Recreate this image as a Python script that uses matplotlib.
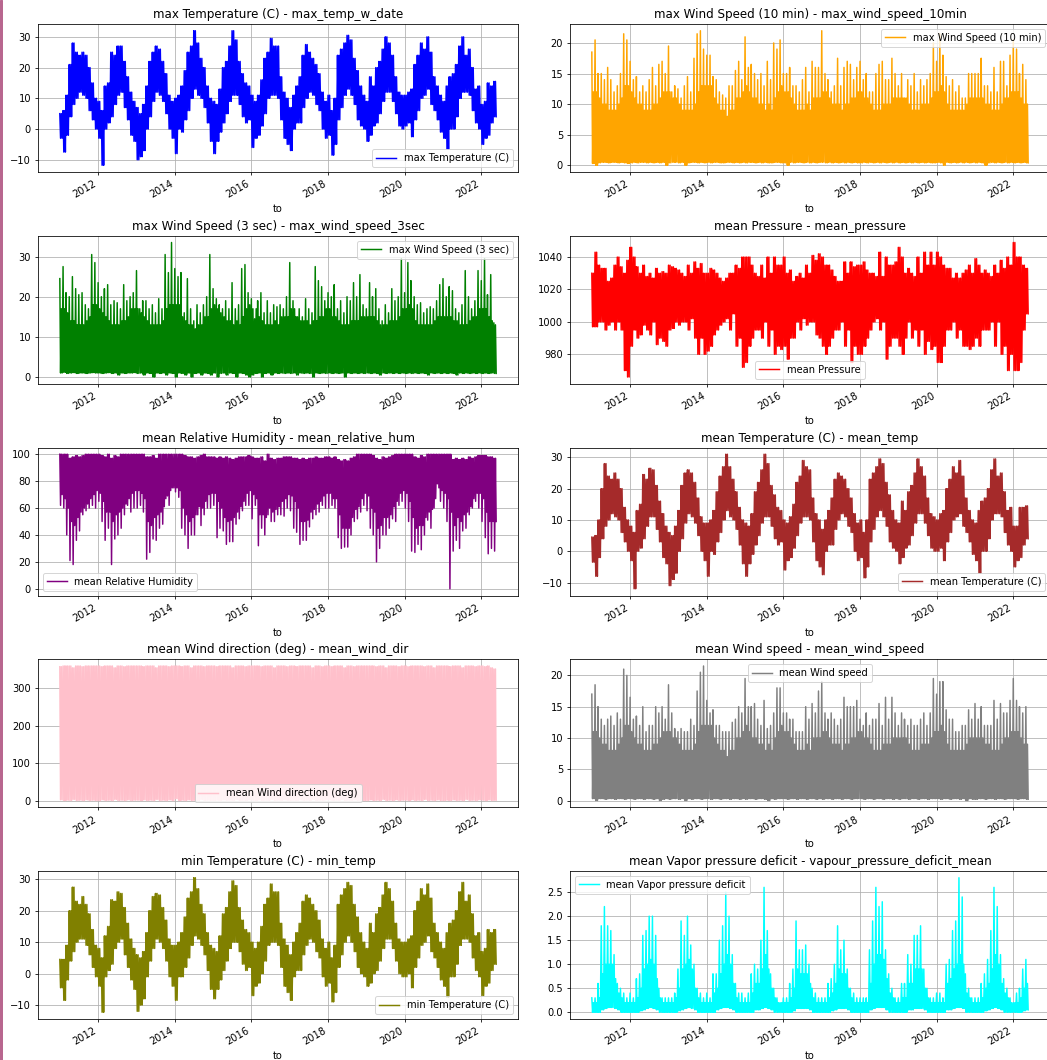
import numpy as np
import matplotlib.pyplot as plt
import matplotlib.dates as mdates
from matplotlib.patches import Rectangle

# monthly envelopes, Jan 2011 .. May 2022 (137 months)
months = np.arange('2011-01', '2022-06', dtype='datetime64[M]')

# max Temperature (C)
max_temp_hi = [5, 6, 11, 21, 28, 25, 24, 25, 24, 20, 15, 10,
               9, 6, 14, 15, 25, 24, 27, 27, 22, 17, 12, 9,
               7, 5, 8, 14, 22, 25, 27, 26, 22, 18, 11, 9,
               10, 11, 14, 19, 25, 27, 32, 28, 23, 20, 14, 10,
               9, 8, 13, 20, 22, 27, 32, 29, 22, 18, 15, 14,
               11, 9, 11, 16, 23, 25, 29.5, 27, 27, 17, 12, 10,
               7, 11, 14, 17, 24, 27.5, 25, 23, 21, 18, 12, 9,
               11, 6, 10, 24, 26, 28, 30.5, 29, 23, 19, 14, 11,
               9, 17, 14, 20, 22, 26, 30, 28, 24, 17, 12, 11,
               11, 12, 13, 21, 24, 28, 26, 30, 25, 17, 14, 11,
               9, 14, 17, 18, 21, 27, 30, 24, 26, 20, 13, 14,
               8, 9, 15, 14, 15.5]
max_temp_lo = [-3, -7.5, -2, 4, 8, 10, 12, 11, 10, 6, 3, 0,
               -3, -11.8, 0, 2, 4, 8, 11, 12, 7, 3, -2, -4,
               -10, -9, -7, 0, 4, 9, 12, 11, 9, 5, 0, -3,
               -8, 0, -1, 3, 6, 10, 13, 11, 10, 7, 2, -4,
               -8, -4, -1, 2, 5, 9, 11, 11, 8, 4, 2, 3,
               -6, -3, -2, 1, 5, 10, 11, 11, 10, 3, -3, -5,
               -7, 0, 2, 2, 7, 10, 12, 11, 8, 6, 0, -3,
               -2, -8.5, -5, 3, 7, 11, 13, 11, 8, 3, 1, 0,
               -4, -2, 1, 2, 5, 9, 12, 12, 9, 5, 1, 0,
               1, 2, -2.5, 3, 6, 10, 11, 13, 8, 6, 3, -1,
               -3, -6.5, 0, 0, 4, 10, 12, 12, 11, 6, 2, 0,
               -5, -3, -2, 2, 4]

# max Wind Speed (10 min)
wind10_peak = [18.5, 20.5, 15, 15, 14, 16, 14, 12, 13, 15, 21.5, 20.5,
               17, 14, 14.5, 12, 13, 12, 14, 16, 13, 16.5, 17, 15,
               19.5, 12, 13, 12.5, 11, 13, 14.5, 12, 17.5, 21.5, 22, 19,
               18, 18, 14.5, 14, 12, 11.5, 11, 13, 13, 15.5, 17, 14,
               21, 16, 16.5, 15, 14, 15, 13, 17, 14, 20, 19, 20.5,
               15, 15, 16, 13, 13, 12, 14, 16, 12, 17, 16, 16,
               22, 15, 14, 12, 13, 17.5, 13, 16, 17, 16.5, 14, 16,
               17, 14, 15, 12, 12, 15, 16.5, 17, 14, 14, 17.5, 15,
               13, 15, 11, 14, 13, 15, 12, 14, 13, 14, 15, 20,
               17, 21.5, 18, 14.5, 13, 14, 12, 13, 11, 11, 15, 15,
               15, 15, 17.5, 13, 13, 12, 16, 12, 17, 17, 13, 18,
               20.5, 19, 15, 16.5, 14]
wind10_body = [12, 12, 11, 10, 10, 9, 9, 9, 10, 11, 13, 13,
               12, 11, 10, 10, 9, 9, 9, 10, 10, 11, 12, 12,
               12, 11, 11, 10, 9, 9, 9, 9, 10, 12, 13, 13,
               13, 13, 11, 10, 9, 9, 8, 9, 9, 11, 11, 12,
               13, 12, 11, 11, 10, 10, 9, 10, 9, 11, 12, 13,
               12, 12, 11, 10, 9, 9, 9, 10, 9, 11, 11, 11,
               12, 12, 11, 10, 10, 10, 9, 10, 10, 11, 11, 12,
               12, 11, 11, 10, 9, 9, 9, 10, 10, 10, 11, 11,
               11, 11, 11, 10, 9, 9, 9, 10, 10, 10, 11, 12,
               12, 13, 12, 10, 9, 9, 9, 9, 9, 10, 11, 11,
               11, 11, 11, 10, 10, 9, 9, 9, 10, 11, 11, 12,
               12, 12, 11, 10, 10]
wind10_low = [0.3, 0.0, 0.4, 0.5, 0.5, 0.4, 0.5, 0.5, 0.4, 0.5, 0.4, 0.3,
              0.4, 0.5, 0.4, 0.5, 0.5, 0.4, 0.5, 0.4, 0.5, 0.4, 0.5, 0.0,
              0.4, 0.5, 0.5, 0.4, 0.5, 0.0, 0.4, 0.5, 0.5, 0.4, 0.5, 0.4,
              0.5, 0.4, 0.5, 0.5, 0.4, 0.4, 0.5, 0.5, 0.4, 0.5, 0.4, 0.5,
              0.4, 0.5, 0.5, 0.4, 0.5, 0.4, 0.5, 0.4, 0.4, 0.5, 0.5, 0.4,
              0.4, 0.0, 0.5, 0.4, 0.5, 0.5, 0.4, 0.5, 0.4, 0.5, 0.4, 0.5,
              0.5, 0.4, 0.5, 0.4, 0.5, 0.4, 0.5, 0.4, 0.5, 0.4, 0.5, 0.4,
              0.4, 0.5, 0.4, 0.5, 0.4, 0.5, 0.4, 0.5, 0.4, 0.5, 0.4, 0.5,
              0.4, 0.5, 0.4, 0.5, 0.4, 0.5, 0.4, 0.5, 0.4, 0.5, 0.4, 0.4,
              0.5, 0.4, 0.0, 0.5, 0.4, 0.5, 0.4, 0.5, 0.4, 0.5, 0.4, 0.5,
              0.4, 0.5, 0.4, 0.0, 0.4, 0.5, 0.4, 0.5, 0.4, 0.5, 0.4, 0.5,
              0.4, 0.5, 0.4, 0.5, 0.4]

# max Wind Speed (3 sec)
wind3_peak = [24.5, 27.5, 21, 20, 25, 22, 20.5, 21, 18, 17, 30.5, 28.5,
              23.5, 20, 22, 23, 18, 19, 18.5, 17, 23, 19, 20, 21,
              26.5, 17, 19, 19, 17, 18, 16, 19.5, 17, 30.5, 26, 33.5,
              27, 25, 26, 16, 24.5, 17, 14, 18, 16, 18, 20, 30.5,
              22, 19.5, 18, 17, 19, 17, 23.5, 17, 18, 27, 28, 21,
              19.5, 14.5, 19, 21, 16, 19, 16, 18, 17.5, 18, 17, 20,
              28.5, 19, 15, 17, 15, 19.5, 17, 16, 27.5, 24, 22.5, 19,
              21, 20, 23, 17, 19, 16, 20, 19, 23.5, 20, 25.5, 18,
              17, 23.5, 20, 22, 17, 14, 18, 16, 22, 19, 20, 29.5,
              21, 28.5, 24, 20, 18, 18.5, 16, 17, 17.5, 17, 19, 23,
              24.5, 20, 22.5, 21.5, 17, 16, 18, 26.5, 20, 17, 19, 26.5,
              24, 29.5, 20.5, 25.5, 13.5]
wind3_body = [17, 17, 16, 14, 14, 13, 13, 13, 14, 15, 18, 18,
              17, 16, 15, 14, 13, 13, 13, 14, 14, 15, 17, 17,
              17, 16, 15, 14, 13, 13, 13, 13, 14, 17, 18, 18,
              18, 18, 15, 14, 13, 13, 12, 13, 13, 15, 15, 17,
              18, 17, 16, 15, 14, 14, 13, 14, 13, 15, 17, 18,
              17, 17, 15, 14, 13, 13, 13, 14, 13, 15, 15, 15,
              17, 17, 15, 14, 14, 14, 13, 14, 14, 15, 15, 17,
              17, 15, 15, 14, 13, 13, 13, 14, 14, 14, 15, 15,
              15, 15, 15, 14, 13, 13, 13, 14, 14, 14, 15, 17,
              17, 18, 17, 14, 13, 13, 13, 13, 13, 14, 15, 15,
              15, 15, 15, 14, 14, 13, 13, 13, 14, 15, 15, 17,
              17, 17, 15, 14, 13]
wind3_low = [1.0, 1.2, 0.9, 1.0, 1.1, 0.9, 1.0, 1.0, 0.9, 1.0, 1.1, 1.0,
             1.0, 0.9, 1.0, 1.1, 0.9, 1.0, 0.5, 1.0, 0.9, 1.0, 1.0, 1.1,
             0.9, 1.0, 0.5, 1.0, 0.9, 0.0, 1.0, 0.9, 1.0, 0.5, 1.0, 0.9,
             0.0, 1.0, 0.9, 0.5, 1.0, 0.0, 0.9, 1.0, 0.5, 1.0, 0.9, 0.5,
             1.0, 0.0, 0.9, 1.0, 0.5, 1.0, 0.9, 0.0, 1.0, 0.9, 0.5, 0.0,
             0.5, 0.9, 1.0, 0.0, 0.9, 1.0, 0.5, 1.0, 0.9, 1.0, 0.9, 1.0,
             0.9, 1.0, 0.5, 1.0, 0.9, 1.0, 0.9, 0.0, 1.0, 0.9, 1.0, 0.9,
             1.0, 0.9, 1.0, 0.9, 1.0, 0.0, 1.0, 0.9, 1.0, 0.9, 1.0, 0.9,
             1.0, 0.9, 1.0, 0.9, 0.5, 1.0, 0.9, 1.0, 0.9, 1.0, 0.9, 1.0,
             0.9, 1.0, 0.9, 1.0, 0.9, 1.0, 0.9, 0.5, 1.0, 0.9, 1.0, 0.9,
             1.0, 0.9, 1.0, 0.9, 0.5, 1.0, 0.9, 1.0, 0.9, 1.0, 0.9, 1.0,
             0.9, 1.0, 0.9, 1.0, 0.9]

# mean Pressure
pressure_hi = [1030, 1043, 1035, 1033, 1033, 1025, 1027, 1035, 1040, 1034, 1030, 1038,
               1046, 1040, 1034, 1030, 1035, 1028, 1030, 1027, 1033, 1030, 1031, 1030,
               1035, 1034, 1033, 1032, 1030, 1028, 1035, 1030, 1037, 1033, 1036, 1030,
               1030, 1033, 1032, 1030, 1027, 1025, 1027, 1030, 1030, 1035, 1033, 1040,
               1040, 1040, 1035, 1030, 1028, 1035, 1027, 1040, 1030, 1040, 1035, 1035,
               1040, 1030, 1032, 1025, 1028, 1030, 1027, 1035, 1030, 1041, 1038, 1042,
               1040, 1035, 1035, 1032, 1028, 1025, 1025, 1037, 1030, 1037, 1034, 1035,
               1035, 1037, 1032, 1030, 1030, 1028, 1043, 1028, 1040, 1035, 1035, 1037,
               1046, 1040, 1030, 1033, 1030, 1028, 1040, 1030, 1043, 1035, 1043, 1035,
               1043, 1040, 1035, 1033, 1033, 1027, 1030, 1027, 1030, 1032, 1035, 1030,
               1039, 1035, 1030, 1032, 1030, 1028, 1035, 1030, 1038, 1033, 1040, 1035,
               1049, 1040, 1040, 1035, 1033]
pressure_lo = [997, 997, 1000, 1000, 995, 998, 1000, 995, 1000, 995, 970, 966,
               985, 995, 990, 992, 998, 995, 992, 1000, 986, 990, 988, 985,
               995, 996, 1000, 998, 1000, 1000, 995, 1002, 990, 980, 990, 980,
               982, 985, 992, 995, 998, 1000, 1002, 995, 1005, 985, 990, 972,
               975, 985, 990, 995, 995, 990, 1000, 985, 995, 980, 985, 983,
               985, 977, 990, 990, 1000, 995, 1002, 998, 1000, 1000, 992, 990,
               985, 980, 985, 990, 995, 995, 1000, 985, 995, 975, 985, 980,
               980, 985, 990, 995, 1000, 1002, 995, 1000, 977, 985, 990, 990,
               985, 980, 990, 1000, 990, 995, 985, 995, 980, 988, 983, 985,
               975, 975, 985, 995, 995, 1000, 990, 995, 985, 985, 983, 985,
               990, 985, 995, 995, 995, 1000, 985, 1000, 980, 985, 970, 980,
               970, 970, 975, 995, 1005]

# mean Relative Humidity
hum_top = [100, 100, 100, 97, 98, 99, 98, 99, 100, 100, 100, 100,
           100, 99, 98, 100, 97, 99, 98, 100, 100, 100, 100, 100,
           100, 100, 100, 98, 98, 99, 97, 100, 100, 100, 100, 100,
           100, 100, 100, 99, 98, 98, 97, 98, 99, 100, 98, 98,
           98, 97, 98, 97, 98, 97, 96, 97, 98, 98, 98, 99,
           98, 97, 97, 98, 95, 100, 97, 96, 97, 97, 98, 98,
           98, 97, 97, 96, 97, 96, 97, 97, 98, 97, 97, 98,
           98, 97, 98, 96, 95, 96, 95, 97, 98, 100, 100, 100,
           100, 100, 99, 97, 96, 98, 97, 98, 99, 100, 100, 100,
           100, 100, 100, 98, 97, 99, 98, 100, 100, 100, 100, 100,
           100, 100, 100, 96, 97, 96, 97, 96, 98, 97, 98, 99,
           99, 99, 98, 98, 97]
hum_body = [70, 67, 60, 50, 47, 53, 57, 60, 63, 67, 70, 73,
            71, 65, 57, 57, 50, 55, 57, 60, 63, 67, 71, 73,
            73, 71, 67, 50, 47, 53, 55, 57, 61, 69, 73, 75,
            75, 73, 60, 55, 50, 53, 55, 61, 60, 65, 70, 71,
            71, 65, 60, 53, 50, 51, 53, 57, 61, 65, 71, 73,
            70, 67, 55, 55, 53, 60, 57, 59, 61, 65, 67, 70,
            69, 65, 60, 50, 50, 51, 57, 59, 63, 65, 69, 71,
            71, 67, 67, 55, 45, 45, 45, 53, 59, 61, 67, 71,
            69, 60, 57, 45, 47, 53, 53, 55, 61, 65, 71, 73,
            71, 65, 53, 45, 47, 47, 53, 57, 59, 67, 75, 73,
            71, 67, 57, 47, 53, 50, 55, 57, 61, 67, 71, 71,
            67, 57, 50, 50, 50]
hum_dip = [62, 60, 40, 21, 18, 36, 43, 55, 58, 60, 62, 60,
           65, 50, 36, 45, 18, 37, 40, 45, 55, 62, 57, 60,
           60, 62, 57, 22, 27, 37, 36, 45, 48, 67, 62, 75,
           72, 68, 45, 40, 30, 40, 40, 55, 47, 55, 60, 60,
           62, 38, 45, 43, 33, 35, 35, 48, 52, 58, 62, 62,
           52, 62, 32, 45, 40, 55, 50, 50, 55, 55, 54, 60,
           58, 45, 42, 33, 36, 36, 46, 52, 55, 57, 62, 60,
           60, 62, 60, 38, 30, 31, 31, 40, 50, 52, 57, 62,
           58, 45, 40, 20, 30, 40, 40, 45, 52, 50, 62, 65,
           60, 50, 28, 27, 33, 29, 40, 51, 45, 60, 78, 65,
           60, 50, 0, 28, 36, 30, 43, 45, 55, 60, 65, 60,
           50, 38, 26, 30, 28]

# mean Temperature (C)
mean_temp_hi = [4.5, 5, 10, 20, 28, 24, 23, 25, 23, 20, 14, 10,
                8, 6, 13, 15, 24.5, 23, 26.5, 26, 21, 16, 12, 8,
                6, 5, 8, 13, 21, 25, 26, 25, 22, 17, 11, 9,
                9, 10, 13, 19, 24, 27, 31, 27, 23, 19, 14, 10,
                9, 8, 12, 19, 22, 26, 31, 28, 21, 18, 14, 13,
                10, 9, 11, 15, 22, 24, 29, 27, 26, 17, 12, 10,
                7, 10, 13, 17, 23, 25, 24, 23, 20, 17, 12, 9,
                10, 6, 10, 23, 25, 27, 29.5, 28, 22, 18, 13, 10,
                9, 16, 13, 19, 21, 25, 29.5, 27, 24, 17, 12, 11,
                10, 12, 13, 20, 23, 27, 25, 29, 24, 17, 13, 10,
                9, 13, 16, 17, 20, 26, 29.5, 24, 25, 19, 13, 14,
                8, 8, 14, 14, 14.5]
mean_temp_lo = [-3.5, -8, -2, 4, 8, 10, 12, 11, 10, 6, 3, 0,
                -3, -12, 0, 1, 4, 8, 11, 11, 7, 3, -2, -4,
                -11, -9, -7, 0, 4, 9, 12, 11, 9, 5, 0, -3,
                -8, 0, -1, 3, 6, 10, 13, 11, 10, 7, 2, -4,
                -8, -4, -1, 2, 5, 9, 11, 11, 8, 4, 2, 3,
                -6, -3, -2, 1, 5, 9, 11, 11, 10, 3, -3, -5,
                -7.5, 0, 2, 2, 7, 10, 12, 11, 8, 6, 0, -3,
                -2, -8.5, -5, 3, 7, 11, 13, 11, 8, 3, 1, 0,
                -4, -2, 1, 2, 5, 9, 12, 12, 9, 5, 1, 0,
                0, 1, -3, 3, 6, 10, 11, 12, 8, 6, 3, -1,
                -3, -7, 0, 0, 4, 10, 12, 12, 11, 6, 2, 0,
                -5, -3, -2, 2, 4]

# mean Wind direction (deg)
wind_dir_hi = [358, 360, 360, 360, 355, 360, 360, 358, 360, 360, 360, 360,
               360, 358, 360, 360, 360, 355, 360, 360, 358, 360, 360, 360,
               360, 360, 358, 360, 360, 360, 355, 360, 360, 360, 358, 360,
               360, 360, 358, 360, 360, 355, 360, 360, 360, 358, 360, 360,
               360, 358, 360, 360, 360, 360, 355, 360, 360, 360, 358, 360,
               360, 360, 360, 358, 360, 360, 360, 355, 360, 360, 360, 358,
               360, 360, 358, 360, 360, 360, 360, 355, 360, 360, 358, 360,
               360, 358, 360, 360, 360, 355, 360, 360, 358, 360, 360, 360,
               360, 360, 360, 358, 360, 360, 355, 360, 360, 360, 358, 360,
               360, 358, 360, 360, 360, 360, 358, 360, 360, 355, 360, 360,
               360, 360, 358, 360, 360, 360, 355, 360, 360, 360, 358, 360,
               360, 358, 360, 355, 352]
wind_dir_lo = [2, 0, 1, 0, 3, 0, 1, 0, 2, 0, 1, 0,
               0, 2, 0, 1, 0, 3, 0, 1, 0, 2, 0, 1,
               1, 0, 2, 0, 1, 0, 3, 0, 1, 0, 2, 0,
               5, 0, 1, 0, 2, 0, 1, 0, 3, 0, 1, 0,
               0, 1, 0, 2, 0, 1, 0, 3, 0, 1, 0, 2,
               1, 0, 2, 0, 1, 0, 3, 0, 1, 0, 2, 0,
               0, 1, 0, 2, 0, 1, 0, 3, 0, 1, 0, 2,
               2, 0, 1, 0, 3, 0, 1, 0, 2, 0, 1, 0,
               0, 2, 0, 1, 0, 3, 0, 1, 0, 2, 0, 1,
               1, 0, 2, 0, 1, 0, 3, 0, 1, 0, 2, 0,
               0, 1, 0, 2, 0, 1, 0, 3, 0, 1, 0, 2,
               1, 0, 2, 0, 1]

# mean Wind speed
wind_mean_peak = [17, 18.5, 15, 13, 12, 13, 13.5, 12, 14, 13, 21, 20,
                  16.5, 13, 13.5, 12, 15, 11, 12, 12, 15, 14, 15, 13,
                  18.5, 14, 11.5, 11, 11.5, 11, 11, 13, 12, 17.5, 20.5, 21.5,
                  16, 14, 14.5, 12, 12, 11, 11, 11, 12.5, 13, 15, 14,
                  19.5, 15, 15, 15.5, 13, 12, 16, 11.5, 12, 14, 18, 18,
                  14, 14, 13, 13, 11, 11, 11, 15, 13, 15.5, 14, 17.5,
                  19, 14, 13, 14, 13, 12, 13, 16.5, 15, 15, 15, 16,
                  13, 12, 14, 12, 13, 13, 15.5, 12, 16.5, 13, 16.5, 14,
                  12, 14, 13, 12, 13, 12, 12, 13, 14, 12, 14, 19.5,
                  17, 19, 19, 14.5, 13, 13, 11, 11, 12, 12, 14.5, 13,
                  15.5, 13, 15, 12, 12, 12, 16, 13, 15.5, 14, 14, 16,
                  19.5, 16, 15, 14, 15]
wind_mean_body = [11, 11, 10, 9, 9, 8, 8, 8, 9, 10, 12, 12,
                  11, 10, 9, 9, 8, 8, 8, 9, 9, 10, 11, 11,
                  11, 10, 10, 9, 8, 8, 8, 8, 9, 11, 12, 12,
                  12, 12, 10, 9, 8, 8, 7, 8, 8, 10, 10, 11,
                  12, 11, 10, 10, 9, 9, 8, 9, 8, 10, 11, 12,
                  11, 11, 10, 9, 8, 8, 8, 9, 8, 10, 10, 10,
                  11, 11, 10, 9, 9, 9, 8, 9, 9, 10, 10, 11,
                  11, 10, 10, 9, 8, 8, 8, 9, 9, 9, 10, 10,
                  10, 10, 10, 9, 8, 8, 8, 9, 9, 9, 10, 11,
                  11, 12, 11, 9, 8, 8, 8, 8, 8, 9, 10, 10,
                  10, 10, 10, 9, 9, 8, 8, 8, 9, 10, 10, 11,
                  11, 11, 10, 9, 9]
wind_mean_low = [0.3, 0.0, 0.3, 0.3, 0.2, 0.3, 0.3, 0.2, 0.3, 0.3, 0.2, 0.3,
                 0.3, 0.2, 0.3, 0.3, 0.2, 0.3, 0.3, 0.2, 0.3, 0.0, 0.2, 0.3,
                 0.2, 0.3, 0.3, 0.2, 0.3, 0.0, 0.3, 0.2, 0.3, 0.3, 0.2, 0.3,
                 0.3, 0.2, 0.3, 0.3, 0.2, 0.3, 0.3, 0.2, 0.3, 0.3, 0.2, 0.3,
                 0.2, 0.3, 0.3, 0.2, 0.3, 0.3, 0.2, 0.0, 0.3, 0.2, 0.3, 0.3,
                 0.3, 0.2, 0.3, 0.3, 0.2, 0.3, 0.3, 0.2, 0.3, 0.3, 0.2, 0.3,
                 0.2, 0.3, 0.3, 0.2, 0.3, 0.3, 0.2, 0.3, 0.3, 0.2, 0.3, 0.3,
                 0.3, 0.2, 0.3, 0.3, 0.2, 0.3, 0.3, 0.2, 0.3, 0.3, 0.2, 0.3,
                 0.2, 0.3, 0.3, 0.2, 0.3, 0.3, 0.2, 0.3, 0.3, 0.2, 0.3, 0.3,
                 0.3, 0.2, 0.3, 0.3, 0.2, 0.3, 0.3, 0.2, 0.3, 0.0, 0.3, 0.2,
                 0.2, 0.3, 0.3, 0.2, 0.3, 0.3, 0.2, 0.3, 0.3, 0.2, 0.3, 0.3,
                 0.3, 0.2, 0.3, 0.3, 0.2]

# min Temperature (C)
min_temp_hi = [4.5, 4.5, 9, 20, 27.5, 23, 22, 24.5, 22, 19, 14, 9,
               8, 5, 12, 15, 23.5, 23, 26, 25.5, 21, 16, 11, 8,
               6, 5, 7, 13, 20, 24.5, 25.5, 25, 21, 17, 11, 9,
               9, 10, 13, 18, 24, 26, 30.5, 27, 22, 19, 13, 9,
               8, 7, 12, 19, 21, 26, 29.5, 28, 21, 17, 14, 13,
               10, 8, 10, 15, 22, 24, 28.5, 26, 26, 16, 11, 9,
               6, 10, 13, 16, 23, 25, 24, 22, 20, 17, 11, 8,
               10, 5, 9, 22, 25, 27, 29, 28, 22, 18, 13, 10,
               8, 16, 13, 19, 21, 25, 29, 27, 23, 16, 11, 10,
               10, 11, 12, 20, 23, 27, 25, 28.5, 24, 16, 13, 10,
               8, 13, 16, 17, 20, 26, 29, 23, 25, 19, 12, 13,
               7, 8, 14, 13, 14]
min_temp_lo = [-4.5, -8.5, -2, 4, 7, 10, 11, 11, 9, 6, 2, -1,
               -4, -12.3, -1, 1, 3, 8, 10, 11, 6, 2, -2, -5,
               -12, -10, -8, -1, 4, 8, 11, 10, 8, 4, -1, -4,
               -8.5, -1, -1, 2, 5, 9, 12, 11, 9, 6, 1, -5,
               -8, -5, -2, 1, 4, 8, 10, 10, 7, 3, 1, 2,
               -7, -4, -3, 0, 4, 9, 10, 10, 9, 2, -4, -6,
               -8.5, -1, 1, 1, 6, 9, 11, 10, 7, 5, -1, -4,
               -3, -9, -6, 2, 6, 10, 12, 10, 7, 2, 0, -1,
               -4, -3, 0, 1, 4, 8, 11, 11, 8, 4, 0, -1,
               -1, 0, -4.5, 2, 5, 9, 10, 12, 7, 5, 2, -2,
               -4, -7.5, -1, -1, 3, 9, 11, 11, 10, 5, 1, -1,
               -7, -4, -3, 1, 3]

# mean Vapor pressure deficit
vpd_peak = [0.3, 0.3, 0.6, 1.8, 2.2, 1.8, 1.7, 1.2, 0.6, 0.5, 0.4, 0.3,
            0.4, 0.3, 0.7, 0.8, 1.6, 1.7, 2.0, 2.0, 1.6, 0.5, 0.3, 0.3,
            0.3, 0.3, 0.4, 0.9, 1.9, 1.6, 2.0, 1.4, 1.0, 0.5, 0.4, 0.3,
            0.4, 0.3, 0.8, 0.8, 1.5, 1.8, 2.5, 2.0, 1.2, 0.6, 0.4, 0.4,
            0.3, 0.4, 0.8, 1.0, 0.9, 1.5, 2.6, 1.7, 0.8, 0.5, 0.3, 0.2,
            0.3, 0.3, 0.6, 0.9, 1.9, 1.3, 1.3, 1.4, 1.0, 0.5, 0.4, 0.3,
            0.3, 0.3, 0.6, 0.7, 1.0, 1.8, 1.3, 1.5, 0.9, 0.5, 0.4, 0.3,
            0.3, 0.3, 0.3, 1.3, 1.9, 2.6, 2.2, 2.3, 1.3, 0.8, 0.5, 0.3,
            0.3, 0.6, 0.6, 1.2, 1.0, 1.6, 1.6, 1.8, 0.9, 0.5, 0.3, 0.3,
            0.4, 0.4, 0.3, 1.0, 1.1, 1.7, 1.9, 2.8, 2.4, 0.8, 0.5, 0.3,
            0.3, 0.3, 0.6, 0.8, 1.1, 1.7, 2.6, 2.2, 1.2, 0.7, 0.5, 0.3,
            0.2, 0.4, 0.5, 0.9, 1.1]
vpd_body = [0.2, 0.2, 0.3, 0.8, 1.0, 1.0, 1.0, 0.7, 0.4, 0.3, 0.2, 0.2,
            0.2, 0.2, 0.3, 0.5, 0.9, 1.0, 1.1, 1.0, 0.7, 0.3, 0.2, 0.2,
            0.2, 0.2, 0.3, 0.5, 0.9, 1.0, 1.1, 0.9, 0.5, 0.3, 0.2, 0.2,
            0.2, 0.2, 0.4, 0.5, 0.8, 1.0, 1.2, 1.0, 0.6, 0.3, 0.2, 0.2,
            0.2, 0.2, 0.4, 0.6, 0.6, 0.9, 1.2, 0.9, 0.5, 0.3, 0.2, 0.2,
            0.2, 0.2, 0.3, 0.5, 0.9, 0.8, 0.8, 0.8, 0.6, 0.3, 0.2, 0.2,
            0.2, 0.2, 0.3, 0.4, 0.6, 0.9, 0.8, 0.8, 0.5, 0.3, 0.2, 0.2,
            0.2, 0.2, 0.2, 0.6, 1.0, 1.2, 1.2, 1.1, 0.7, 0.4, 0.3, 0.2,
            0.2, 0.3, 0.3, 0.6, 0.6, 0.9, 0.9, 0.9, 0.5, 0.3, 0.2, 0.2,
            0.2, 0.2, 0.2, 0.6, 0.7, 0.9, 1.0, 1.2, 1.0, 0.4, 0.3, 0.2,
            0.2, 0.2, 0.3, 0.5, 0.6, 0.9, 1.2, 1.0, 0.6, 0.4, 0.3, 0.2,
            0.2, 0.2, 0.3, 0.5, 0.6]
vpd_low = [0.0, 0.0, 0.0, 0.05, 0.08, 0.1, 0.1, 0.08, 0.05, 0.0, 0.0, 0.0,
           0.0, 0.0, 0.0, 0.03, 0.05, 0.08, 0.1, 0.08, 0.05, 0.0, 0.0, 0.0,
           0.0, 0.0, 0.0, 0.03, 0.05, 0.08, 0.1, 0.08, 0.05, 0.0, 0.0, 0.0,
           0.0, 0.0, 0.0, 0.05, 0.08, 0.1, 0.1, 0.08, 0.05, 0.0, 0.0, 0.0,
           0.0, 0.0, 0.0, 0.05, 0.05, 0.08, 0.1, 0.08, 0.05, 0.0, 0.0, 0.0,
           0.0, 0.0, 0.0, 0.03, 0.08, 0.08, 0.08, 0.08, 0.05, 0.0, 0.0, 0.0,
           0.0, 0.0, 0.0, 0.03, 0.05, 0.08, 0.08, 0.08, 0.05, 0.0, 0.0, 0.0,
           0.0, 0.0, 0.0, 0.05, 0.08, 0.1, 0.1, 0.1, 0.05, 0.0, 0.0, 0.0,
           0.0, 0.0, 0.0, 0.05, 0.05, 0.08, 0.08, 0.08, 0.05, 0.0, 0.0, 0.0,
           0.0, 0.0, 0.0, 0.05, 0.05, 0.08, 0.1, 0.1, 0.08, 0.0, 0.0, 0.0,
           0.0, 0.0, 0.0, 0.03, 0.05, 0.08, 0.1, 0.08, 0.05, 0.0, 0.0, 0.0,
           0.0, 0.0, 0.0, 0.03, 0.05]

# (label, column, colour, legend loc, arrays visited in turn within each month)
panels = [
    ('max Temperature (C)', 'max_temp_w_date', 'blue', 'lower right',
     [max_temp_hi, max_temp_lo, max_temp_hi, max_temp_lo]),
    ('max Wind Speed (10 min)', 'max_wind_speed_10min', 'orange', 'upper right',
     [wind10_peak, wind10_low, wind10_body, wind10_low]),
    ('max Wind Speed (3 sec)', 'max_wind_speed_3sec', 'green', 'upper right',
     [wind3_peak, wind3_low, wind3_body, wind3_low]),
    ('mean Pressure', 'mean_pressure', 'red', 'lower center',
     [pressure_hi, pressure_lo, pressure_hi, pressure_lo]),
    ('mean Relative Humidity', 'mean_relative_hum', 'purple', 'lower left',
     [hum_top, hum_dip, hum_top, hum_body]),
    ('mean Temperature (C)', 'mean_temp', 'brown', 'lower right',
     [mean_temp_hi, mean_temp_lo, mean_temp_hi, mean_temp_lo]),
    ('mean Wind direction (deg)', 'mean_wind_dir', 'pink', 'lower center',
     [wind_dir_hi, wind_dir_lo, wind_dir_hi, wind_dir_lo]),
    ('mean Wind speed', 'mean_wind_speed', 'gray', 'upper center',
     [wind_mean_peak, wind_mean_low, wind_mean_body, wind_mean_low]),
    ('min Temperature (C)', 'min_temp', 'olive', 'lower right',
     [min_temp_hi, min_temp_lo, min_temp_hi, min_temp_lo]),
    ('mean Vapor pressure deficit', 'vapour_pressure_deficit_mean', 'cyan', 'upper left',
     [vpd_peak, vpd_low, vpd_body, vpd_low]),
]

W, H, DPI = 1047, 1060, 71
fig = plt.figure(figsize=(W / DPI, H / DPI), dpi=DPI)

days = months.astype('datetime64[D]')
offs = np.array([1, 8, 16, 23])
for i, (label, col, color, loc, arrays) in enumerate(panels):
    row, c = divmod(i, 2)
    left = 38 if c == 0 else 570
    top = 24 + 211.75 * row
    ax = fig.add_axes([left / W, 1 - (top + 148) / H, 480 / W, 148 / H])

    t = (days[:, None] + offs).ravel()
    v = np.column_stack(arrays).ravel()
    ax.plot(t, v, color=color, label=label)

    ax.set_title(f'{label} - {col}')
    ax.set_xlabel('to')
    ax.grid(True)
    ax.legend(loc=loc)
    ax.xaxis.set_major_locator(mdates.YearLocator(2))
    ax.xaxis.set_major_formatter(mdates.DateFormatter('%Y'))
    for lab in ax.get_xticklabels():
        lab.set_rotation(30)
        lab.set_ha('right')

# thin border strip at the left edge of the screenshot
fig.patches.append(Rectangle((0, 0), 2 / W, 1, transform=fig.transFigure,
                             color='#b8668f', zorder=10))

fig.savefig('out.png', dpi=DPI)
